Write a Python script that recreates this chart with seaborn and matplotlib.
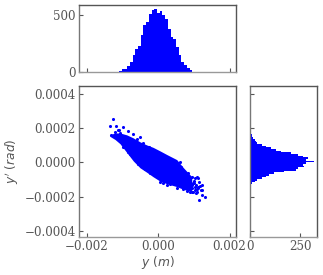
import matplotlib
matplotlib.use("Agg")
import matplotlib.pyplot as plt
import seaborn as sns

# top histogram, y (m)
y_centers = [-0.00105, -0.00098, -0.00090, -0.00082, -0.00075, -0.00067, -0.00060, -0.00052,
             -0.00044, -0.00037, -0.00029, -0.00021, -0.00014, -0.00006, 0.00002, 0.00009,
             0.00017, 0.00024, 0.00032, 0.00040, 0.00047, 0.00055, 0.00063, 0.00070,
             0.00078, 0.00085, 0.00093, 0.00101]
y_counts = [9, 23, 29, 50, 88, 146, 204, 228, 321, 409, 438, 511, 548, 555,
            520, 533, 496, 461, 380, 307, 292, 219, 146, 88, 58, 38, 15, 3]

# right histogram, y' (rad), top to bottom
yp_centers = [0.000170, 0.000160, 0.000150, 0.000141, 0.000131, 0.000121, 0.000112, 0.000102,
              0.000092, 0.000082, 0.000073, 0.000063, 0.000053, 0.000043, 0.000034, 0.000024,
              0.000014, 0.000004, -0.000005, -0.000015, -0.000025, -0.000035, -0.000044, -0.000054,
              -0.000064, -0.000073, -0.000083, -0.000093, -0.000103, -0.000112, -0.000122, -0.000132,
              -0.000142, -0.000151, -0.000161, -0.000171]
yp_counts = [7, 9, 12, 17, 23, 30, 37, 62, 78, 103, 128, 153, 203, 237, 262, 287,
             278, 320, 278, 262, 270, 237, 228, 170, 120, 95, 78, 62, 37, 23, 12, 7, 5, 3, 2, 1]

# outline of the solid part of the cloud
core_y = [-0.001343, -0.001203, -0.001063, -0.000876, -0.000691, -0.000503, -0.000316, -0.000140,
          0.000056, 0.000243, 0.000523, 0.000708, 0.000943]
core_upper = [0.000162, 0.000172, 0.000172, 0.000161, 0.000143, 0.000120, 0.000102, 0.000088,
              0.000067, 0.000046, 0.000016, -0.000031, -0.000084]
core_lower = [0.000152, 0.000134, 0.000109, 0.000058, 0.000008, -0.000032, -0.000058, -0.000084,
              -0.000110, -0.000125, -0.000142, -0.000158, -0.000172]

# single points around the edge of the cloud
edge_y = [-0.001258, -0.001342, -0.001184, -0.001109, -0.000969, -0.001323, -0.000700, -0.000503,
          0.000615, 0.001314, 0.001156, 0.001212, 0.001221, 0.001174, 0.001081, 0.000941,
          -0.000987, -0.000736, -0.000363, 0.000336, 0.000708, 0.000941, -0.000829, -0.001202,
          -0.001062, 0.000056, -0.000224, 0.000242, 0.000522, 0.000802, 0.001081, 0.001035,
          0.001128, 0.000988, 0.001222, 0.001035, 0.000943, 0.001063, 0.001222, 0.001127,
          0.001110, 0.001007, 0.001147, 0.000979, -0.001090, -0.000848, -0.000600, -0.000420,
          -0.000250, 0.000430, 0.000650, 0.000850, -0.000790, -0.000560, 0.000140, 0.000880,
          0.001000, 0.001050, 0.000960, 0.001090, 0.001020]
edge_yp = [0.000253, 0.000214, 0.000212, 0.000189, 0.000208, 0.000160, 0.000165, 0.000146,
           0.000004, -0.000201, -0.000220, -0.000162, -0.000191, -0.000138, -0.000088, -0.000084,
           0.000091, 0.000037, -0.000039, -0.000127, -0.000158, -0.000172, 0.000062, 0.000179,
           0.000174, -0.000113, -0.000064, -0.000133, -0.000152, -0.000166, -0.000172, -0.000146,
           -0.000152, -0.000123, -0.000133, -0.000094, -0.000152, -0.000181, -0.000162, -0.000143,
           -0.000090, -0.000121, -0.000115, -0.000174, 0.000189, 0.000185, 0.000135, 0.000112,
           0.000092, -0.000002, -0.000028, -0.000062, 0.000050, -0.000010, -0.000118, -0.000176,
           -0.000108, -0.000135, -0.000135, -0.000155, -0.000160]

sns.set_style("white")
plt.rcParams["font.family"] = ["DejaVu Serif"]
plt.rcParams["font.size"] = 8.6
plt.rcParams["mathtext.fontset"] = "dejavusans"

W, H = 323, 275
fig = plt.figure(figsize=(W / 100, H / 100), dpi=100)


def box(x0, y0, x1, y1):
    return [x0 / W, 1 - y1 / H, (x1 - x0) / W, (y1 - y0) / H]


ax_top = fig.add_axes(box(79, 5, 236, 72))
ax_main = fig.add_axes(box(79, 86, 236, 237))
ax_right = fig.add_axes(box(250, 86, 317, 237))

# main scatter
ax_main.fill_between(core_y, core_lower, core_upper, color="#0000ff", linewidth=0)
sns.scatterplot(x=edge_y, y=edge_yp, ax=ax_main, color="#0000ff", s=5, linewidth=0)
ax_main.set_xlim(-0.00221, 0.00218)
ax_main.set_ylim(-0.000437, 0.000447)
ax_main.set_xticks([-0.002, 0, 0.002])
ax_main.set_xticklabels(["\u22120.002", "0.000", "0.002"])
ax_main.set_yticks([-0.0004, -0.0002, 0, 0.0002, 0.0004])
ax_main.set_yticklabels(["\u22120.0004", "\u22120.0002", "0.0000", "0.0002", "0.0004"])
ax_main.set_xlabel(r"$y\ (m)$", fontsize=8.8, color="#555555", labelpad=0.5)
ax_main.set_ylabel(r"$y'\ (rad)$", fontsize=8.8, color="#555555", labelpad=2)

# top histogram
sns.histplot(x=y_centers, weights=y_counts, bins=28, binrange=(-0.00109, 0.001035),
             element="step", color="#0000ff", alpha=1, linewidth=0, ax=ax_top)
ax_top.set_xlim(ax_main.get_xlim())
ax_top.set_ylim(0, 588)
ax_top.set_xticks([-0.002, 0, 0.002])
ax_top.set_yticks([0, 500])
ax_top.tick_params(labelbottom=False)
ax_top.set_ylabel("")

# right histogram
sns.histplot(y=yp_centers, weights=yp_counts, bins=36, binrange=(-0.000176, 0.000175),
             element="step", color="#0000ff", alpha=1, linewidth=0, ax=ax_right)
ax_right.set_ylim(ax_main.get_ylim())
ax_right.set_xlim(0, 333)
ax_right.set_xticks([0, 250])
ax_right.set_yticks([-0.0004, -0.0002, 0, 0.0002, 0.0004])
ax_right.tick_params(labelleft=False)
ax_right.set_xlabel("")

for ax in (ax_main, ax_top, ax_right):
    ax.tick_params(direction="in", length=3, width=0.8, color="#555555", labelcolor="#555555",
                   pad=2.5, bottom=True, left=True)
    for sp in ax.spines.values():
        sp.set_color("#555555")
        sp.set_linewidth(1.0)
    ax.spines["bottom"].set_color("#999999")
    ax.spines["left"].set_color("#777777")

fig.savefig("out.png", dpi=100)
